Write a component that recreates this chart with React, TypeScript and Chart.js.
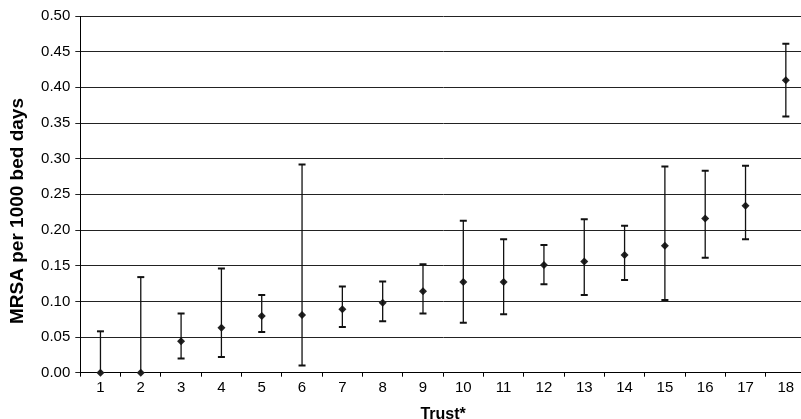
import React, { useEffect, useRef } from "react";
import { Chart, registerables } from "chart.js";

Chart.register(...registerables);

const trusts = ["1","2","3","4","5","6","7","8","9","10","11","12","13","14","15","16","17","18"];
const rates = [0, 0, 0.044, 0.063, 0.0795, 0.081, 0.089, 0.098, 0.114, 0.127, 0.127, 0.151, 0.156, 0.165, 0.178, 0.216, 0.234, 0.41];
const lowerCI = [0, 0, 0.020, 0.022, 0.057, 0.010, 0.064, 0.072, 0.083, 0.070, 0.082, 0.124, 0.109, 0.130, 0.102, 0.161, 0.187, 0.359];
const upperCI = [0.058, 0.134, 0.083, 0.146, 0.109, 0.292, 0.121, 0.128, 0.152, 0.213, 0.187, 0.179, 0.215, 0.206, 0.289, 0.283, 0.290, 0.461];
const yTitle = "MRSA per 1000 bed days";
const xTitle = "Trust*";

const errorBarPlugin = {
  id: "errorBars",
  afterDatasetsDraw(chart: any) {
    const { ctx, scales } = chart;
    const x = scales.x;
    const y = scales.y;
    ctx.save();
    ctx.strokeStyle = "#111";
    trusts.forEach((_, i) => {
      const px = x.getPixelForValue(i);
      const yl = y.getPixelForValue(lowerCI[i]);
      const yu = y.getPixelForValue(upperCI[i]);
      ctx.lineWidth = 1.3;
      ctx.beginPath();
      ctx.moveTo(px, yl);
      ctx.lineTo(px, yu);
      ctx.stroke();
      ctx.lineWidth = 2;
      ctx.beginPath();
      ctx.moveTo(px - 3.5, yu);
      ctx.lineTo(px + 3.5, yu);
      if (lowerCI[i] > 0) {
        ctx.moveTo(px - 3.5, yl);
        ctx.lineTo(px + 3.5, yl);
      }
      ctx.stroke();
    });
    ctx.restore();
  },
  afterDraw(chart: any) {
    const { ctx } = chart;
    ctx.save();
    ctx.fillStyle = "#000";
    ctx.font = "bold 19px 'Liberation Sans', Arial, sans-serif";
    ctx.textAlign = "center";
    ctx.textBaseline = "middle";
    ctx.translate(18, 211);
    ctx.rotate(-Math.PI / 2);
    ctx.fillText(yTitle, 0, 0);
    ctx.restore();
  },
};

export default function App() {
  const ref = useRef<HTMLCanvasElement>(null);
  useEffect(() => {
    if (!ref.current) return;
    const chart = new Chart(ref.current, {
      type: "line",
      data: {
        labels: trusts,
        datasets: [
          {
            data: rates,
            showLine: false,
            pointStyle: "rectRot",
            pointRadius: 4,
            pointBackgroundColor: "#222",
            pointBorderColor: "#222",
            pointBorderWidth: 0,
            clip: false as any,
          },
        ],
      },
      options: {
        animation: false,
        responsive: false,
        devicePixelRatio: 1,
        layout: { padding: { top: 16, right: 2.5, bottom: 0, left: 0 } },
        plugins: { legend: { display: false }, tooltip: { enabled: false } },
        scales: {
          x: {
            type: "category",
            offset: true,
            grid: { offset: true, drawOnChartArea: false, drawTicks: true, tickLength: 4, color: "#000" },
            border: { color: "#000", width: 1 },
            ticks: {
              color: "#000",
              font: { family: "'Liberation Sans', Arial, sans-serif", size: 15 },
              padding: 2,
              maxRotation: 0,
              autoSkip: false,
            },
            title: {
              display: true,
              text: xTitle,
              color: "#000",
              font: { family: "'Liberation Sans', Arial, sans-serif", size: 16, weight: "bold" },
              padding: { top: 0, bottom: 0 },
            },
            afterFit: (s: any) => {
              s.height = 51.3;
            },
          },
          y: {
            min: 0,
            max: 0.5,
            grid: { color: "#222", lineWidth: 1, tickLength: 5, drawTicks: true },
            border: { color: "#000", width: 1 },
            ticks: {
              stepSize: 0.05,
              color: "#000",
              padding: 5,
              font: { family: "'Liberation Sans', Arial, sans-serif", size: 15 },
              callback: (v: any) => Number(v).toFixed(2),
            },
            afterFit: (s: any) => {
              s.width = 80.3;
            },
          },
        },
      },
      plugins: [errorBarPlugin],
    });
    return () => chart.destroy();
  }, []);
  return (
    <div style={{ position: "fixed", left: 0, top: 0, width: 801, height: 419, overflow: "hidden", background: "#fff" }}>
      <canvas ref={ref} width={810} height={424} style={{ width: 810, height: 424, display: "block" }} />
    </div>
  );
}
